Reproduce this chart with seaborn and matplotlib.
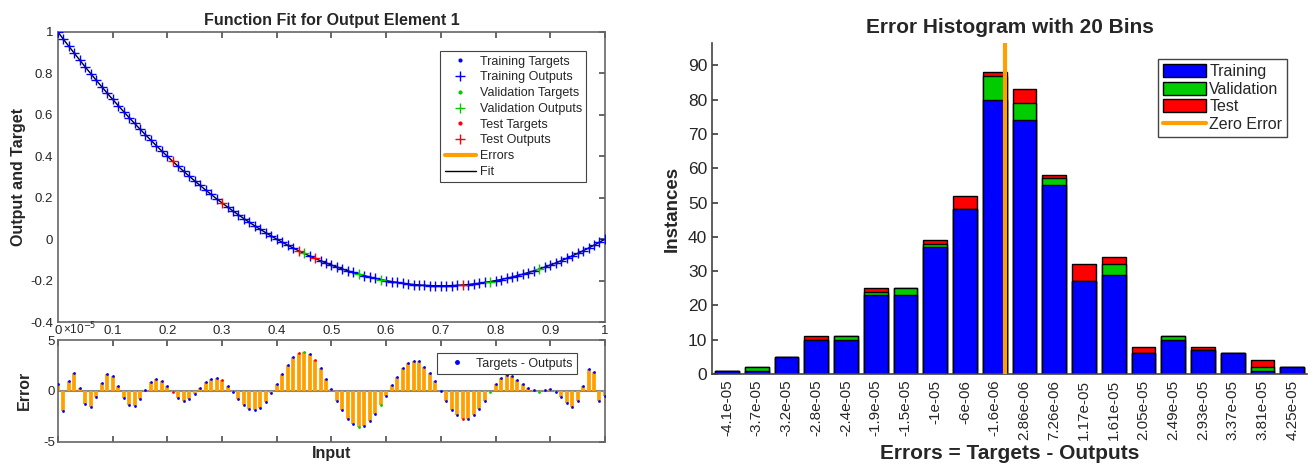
import numpy as np
import pandas as pd
import matplotlib
matplotlib.use('Agg')
import matplotlib.pyplot as plt
from matplotlib.lines import Line2D
from matplotlib.patches import Patch
from matplotlib.ticker import FuncFormatter
import seaborn as sns

# ---------------------------------------------------------------------------
# Data: function fit (left panels)
# ---------------------------------------------------------------------------
x_input = np.linspace(0, 1, 101)

targets = [1.000, 0.965, 0.931, 0.897, 0.864, 0.831, 0.799, 0.767, 0.736, 0.705,
           0.675, 0.645, 0.616, 0.587, 0.559, 0.531, 0.504, 0.477, 0.451, 0.425,
           0.400, 0.375, 0.351, 0.327, 0.304, 0.281, 0.259, 0.237, 0.216, 0.195,
           0.175, 0.155, 0.136, 0.117, 0.099, 0.081, 0.064, 0.047, 0.031, 0.015,
           0.000, -0.015, -0.029, -0.043, -0.056, -0.069, -0.081, -0.093, -0.104, -0.115,
           -0.125, -0.135, -0.144, -0.153, -0.161, -0.169, -0.176, -0.183, -0.189, -0.195,
           -0.200, -0.205, -0.209, -0.213, -0.216, -0.219, -0.221, -0.223, -0.224, -0.225,
           -0.225, -0.225, -0.224, -0.223, -0.221, -0.219, -0.216, -0.213, -0.209, -0.205,
           -0.200, -0.195, -0.189, -0.183, -0.176, -0.169, -0.161, -0.153, -0.144, -0.135,
           -0.125, -0.115, -0.104, -0.093, -0.081, -0.069, -0.056, -0.043, -0.029, -0.015,
           0.000]

# Targets - Outputs, in units of 1e-5
errors_e5 = [0.7, -2.0, 1.0, 1.8, 0.3, -1.3, -1.6, -0.6, 0.8, 1.7,
             1.5, 0.5, -0.66, -1.41, -1.48, -0.79, 0.13, 0.85, 1.21, 0.98,
             0.46, -0.16, -0.66, -0.95, -0.79, -0.33, 0.3, 0.85, 1.21, 1.25,
             1.11, 0.52, -0.07, -0.82, -1.44, -1.77, -1.9, -1.64, -1.05, -0.26,
             0.72, 1.7, 2.59, 3.28, 3.74, 3.84, 3.6, 3.08, 2.26, 1.18,
             0.16, -0.95, -1.93, -2.72, -3.28, -3.54, -3.41, -2.95, -2.23, -1.41,
             -0.46, 0.56, 1.38, 2.2, 2.69, 2.89, 2.89, 2.36, 1.77, 0.92,
             -0.03, -0.95, -1.84, -2.39, -2.75, -2.75, -2.33, -1.74, -0.95, -0.07,
             0.66, 1.28, 1.54, 1.48, 1.11, 0.69, 0.3, 0.07, -0.07, 0.13,
             0.2, -0.07, -0.56, -1.18, -1.61, -1.02, 0.49, 2.13, 1.84, -1.02,
             -0.49]

val_idx = [45, 55, 59, 79, 88]
test_idx = [21, 30, 44, 47, 74]

# ---------------------------------------------------------------------------
# Data: error histogram (right panel)
# ---------------------------------------------------------------------------
bin_labels = ['-4.1e-05', '-3.7e-05', '-3.2e-05', '-2.8e-05', '-2.4e-05',
              '-1.9e-05', '-1.5e-05', '-1e-05', '-6e-06', '-1.6e-06',
              '2.86e-06', '7.26e-06', '1.17e-05', '1.61e-05', '2.05e-05',
              '2.49e-05', '2.93e-05', '3.37e-05', '3.81e-05', '4.25e-05']
train_counts = [1, 1, 5, 10, 10, 23, 23, 37, 48, 80, 74, 55, 27, 29, 6, 10, 7, 6, 1, 2]
val_counts   = [0, 1, 0, 0, 1, 1, 2, 1, 0, 7, 5, 2, 0, 3, 0, 1, 0, 0, 1, 0]
test_counts  = [0, 0, 0, 1, 0, 1, 0, 1, 4, 1, 4, 1, 5, 2, 2, 0, 1, 0, 2, 0]

BLUE, GREEN, RED, ORANGE = '#0000FF', '#00CC00', '#FF0000', '#FFA000'

# ---------------------------------------------------------------------------
sns.set_theme(style='white')
plt.rcParams['font.family'] = ['Liberation Sans', 'DejaVu Sans']
plt.rcParams['axes.unicode_minus'] = False

fit_df = pd.DataFrame({'input': x_input, 'target': targets, 'error': errors_e5})
fit_df['output'] = fit_df['target'] - fit_df['error'] * 1e-5
fit_df['split'] = 'train'
fit_df.loc[val_idx, 'split'] = 'val'
fit_df.loc[test_idx, 'split'] = 'test'
split_colors = {'train': BLUE, 'val': GREEN, 'test': RED}

fig = plt.figure(figsize=(13.14, 4.65), dpi=100)
ax1 = fig.add_axes([0.0441, 0.3075, 0.4163, 0.6237])
ax2 = fig.add_axes([0.0441, 0.0501, 0.4163, 0.2187])
ax3 = fig.add_axes([0.5419, 0.1957, 0.4528, 0.7118])

# --- Function fit ---
sns.lineplot(data=fit_df, x='input', y='output', color='black', lw=1, ax=ax1)
for sp in ['train', 'val', 'test']:
    sub = fit_df[fit_df['split'] == sp]
    sns.scatterplot(data=sub, x='input', y='target', marker='.', color=split_colors[sp],
                    s=10, linewidth=0, ax=ax1, zorder=3)
    sns.scatterplot(data=sub, x='input', y='output', marker='+', color=split_colors[sp],
                    s=48, linewidth=1, ax=ax1, zorder=3)

ax1.set_xlim(0, 1)
ax1.set_ylim(-0.4, 1)
ax1.set_xticks(np.round(np.arange(0, 1.01, 0.1), 1))
ax1.set_yticks([-0.4, -0.2, 0, 0.2, 0.4, 0.6, 0.8, 1])
ax1.yaxis.set_major_formatter(FuncFormatter(lambda v, _: f'{v:g}'))
ax1.tick_params(direction='in', length=4, top=True, right=True, labelbottom=False,
                labelsize=9.5, colors='#555555', labelcolor='#262626')
ax1.set_xlabel('')
ax1.set_ylabel('Output and Target', fontsize=11.5, fontweight='bold', labelpad=3)
ax1.set_title('Function Fit for Output Element 1', fontsize=11.5, fontweight='bold', pad=5)

h1 = [Line2D([], [], ls='none', marker='.', color=BLUE, ms=4),
      Line2D([], [], ls='none', marker='+', color=BLUE, ms=7),
      Line2D([], [], ls='none', marker='.', color=GREEN, ms=4),
      Line2D([], [], ls='none', marker='+', color=GREEN, ms=7),
      Line2D([], [], ls='none', marker='.', color=RED, ms=4),
      Line2D([], [], ls='none', marker='+', color=RED, ms=7),
      Line2D([], [], color=ORANGE, lw=3),
      Line2D([], [], color='black', lw=1)]
l1 = ['Training Targets', 'Training Outputs', 'Validation Targets', 'Validation Outputs',
      'Test Targets', 'Test Outputs', 'Errors', 'Fit']
leg = ax1.legend(h1, l1, loc='upper right', bbox_to_anchor=(0.977, 0.955), fontsize=9,
                 frameon=True, fancybox=False, edgecolor='#444444', framealpha=1,
                 labelspacing=0.3, handlelength=2.5, handletextpad=0.3, borderpad=0.35)
leg.get_frame().set_linewidth(0.8)

# --- Error stems ---
ax2.axhline(0, color='#888888', lw=1.5, zorder=1)
ax2.vlines(fit_df['input'], 0, fit_df['error'], color=ORANGE, lw=2.7, zorder=2)
for sp in ['train', 'val', 'test']:
    sub = fit_df[fit_df['split'] == sp]
    sns.scatterplot(data=sub, x='input', y='error', marker='.', color=split_colors[sp],
                    s=16, linewidth=0, ax=ax2, zorder=3)
ax2.set_xlim(0, 1)
ax2.set_ylim(-5, 5)
ax2.set_yticks([-5, 0, 5])
ax2.set_xticks(np.round(np.arange(0, 1.01, 0.1), 1))
ax2.xaxis.set_major_formatter(FuncFormatter(lambda v, _: f'{v:g}'))
ax2.tick_params(direction='in', length=4, top=True, right=True, bottom=True,
                labeltop=True, labelbottom=False, labelsize=9.5, pad=2,
                colors='#555555', labelcolor='#262626')
ax2.set_ylabel('Error', fontsize=11.5, fontweight='bold', labelpad=8)
ax2.xaxis.set_label_position('bottom')
ax2.set_xlabel('Input', fontsize=11.5, fontweight='bold', labelpad=3)
ax2.text(0.01, 1.03, '×10$^{-5}$', transform=ax2.transAxes, fontsize=8.5,
         color='#262626', ha='left', va='bottom')
leg2 = ax2.legend([Line2D([], [], ls='none', marker='.', color=BLUE, ms=5)],
                  ['Targets - Outputs'], loc='upper right', bbox_to_anchor=(0.96, 0.93),
                  fontsize=9, frameon=True, fancybox=False, edgecolor='#444444',
                  framealpha=1, handlelength=2.5, handletextpad=0.3, borderpad=0.35)
leg2.get_frame().set_linewidth(0.8)
for ax in (ax1, ax2):
    for s in ax.spines.values():
        s.set_color('#666666')
        s.set_linewidth(1.2)

# --- Error histogram ---
hist_df = pd.DataFrame({'bin': bin_labels, 'training': train_counts,
                        'validation': val_counts, 'test': test_counts})
hist_df['tv'] = hist_df['training'] + hist_df['validation']
hist_df['total'] = hist_df['tv'] + hist_df['test']

for col, c in [('total', RED), ('tv', GREEN), ('training', BLUE)]:
    sns.barplot(data=hist_df, x='bin', y=col, order=bin_labels, color=c, saturation=1,
                edgecolor='black', linewidth=1, width=0.8, ax=ax3)

centers = [float(s) for s in bin_labels]
i0 = max(i for i, c in enumerate(centers) if c < 0)
zero_pos = i0 + (0 - centers[i0]) / (centers[i0 + 1] - centers[i0])
ax3.axvline(zero_pos, color=ORANGE, lw=3, zorder=5)

ax3.set_xlim(-0.5, 19.5)
ax3.set_ylim(0, 96.5)
ax3.set_yticks(range(0, 91, 10))
ax3.tick_params(axis='y', direction='in', length=4, left=True, labelsize=12.5,
                colors='#444444', labelcolor='#262626')
ax3.tick_params(axis='x', length=0, labelsize=11, rotation=90, labelcolor='#262626', pad=4)
sns.despine(ax=ax3)
for s in ('left', 'bottom'):
    ax3.spines[s].set_color('#444444')
    ax3.spines[s].set_linewidth(1.2)
ax3.set_title('Error Histogram with 20 Bins', fontsize=15, fontweight='bold', pad=7)
ax3.set_xlabel('Errors = Targets - Outputs', fontsize=15, fontweight='bold', labelpad=3)
ax3.set_ylabel('Instances', fontsize=13.5, fontweight='bold', labelpad=5)

h3 = [Patch(facecolor=BLUE, edgecolor='black'),
      Patch(facecolor=GREEN, edgecolor='black'),
      Patch(facecolor=RED, edgecolor='black'),
      Line2D([], [], color=ORANGE, lw=3)]
leg3 = ax3.legend(h3, ['Training', 'Validation', 'Test', 'Zero Error'], loc='upper right',
                  bbox_to_anchor=(0.98, 0.975), fontsize=11.5, frameon=True, fancybox=False,
                  edgecolor='#444444', framealpha=1, labelspacing=0.15, handlelength=2.7,
                  handleheight=0.9, handletextpad=0.2, borderpad=0.3)
leg3.get_frame().set_linewidth(1.0)

fig.savefig('out.png', dpi=100)
